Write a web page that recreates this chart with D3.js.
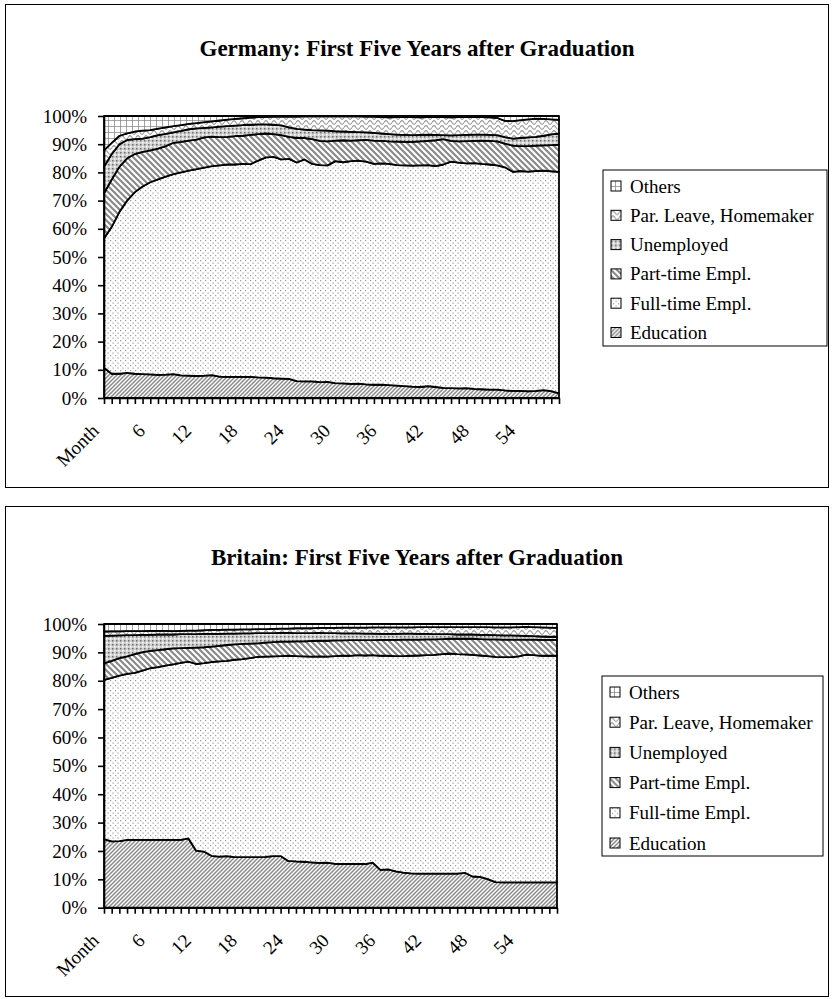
<!DOCTYPE html>
<html>
<head>
<meta charset="utf-8">
<script src="https://cdn.jsdelivr.net/npm/d3@7"></script>
<style>
  body { margin: 0; background: #fff; }
  svg text { font-family: "Liberation Serif", "Times New Roman", serif; }
</style>
</head>
<body>
<div id="chart"></div>
<script>
const seriesNames = ["Education", "Full-time Empl.", "Part-time Empl.", "Unemployed", "Par. Leave, Homemaker", "Others"];
const nMonths = 60;
const tickLabelIdx = [0, 6, 12, 18, 24, 30, 36, 42, 48, 54];
const tickLabels = ["Month", "6", "12", "18", "24", "30", "36", "42", "48", "54"];
const yTicks = [0, 0.1, 0.2, 0.3, 0.4, 0.5, 0.6, 0.7, 0.8, 0.9, 1];

// Germany, share in % per month
const deEducation = [10.7,8.6,8.6,8.9,8.6,8.5,8.4,8.2,8.3,8.5,8.0,7.9,7.8,7.9,8.1,7.6,7.5,7.5,7.5,7.5,7.3,7.2,7.0,6.9,6.8,6.0,5.9,5.9,5.6,5.7,5.3,5.2,5.0,5.1,4.8,4.7,4.7,4.6,4.4,4.2,4.0,3.9,4.2,3.9,3.6,3.5,3.4,3.5,3.2,3.1,3.0,3.0,2.7,2.5,2.5,2.4,2.5,2.8,2.4,1.6];
const deFullTime = [45.9,52.1,57.4,61.1,64.4,66.5,68.1,69.3,70.2,70.9,72.0,72.7,73.4,73.8,74.1,74.9,75.3,75.3,75.5,75.4,76.9,78.1,78.5,77.7,78.0,77.5,78.7,77.1,77.0,76.8,78.7,78.4,79.0,79.1,79.0,78.3,78.5,78.4,78.2,78.3,78.4,78.6,78.4,78.3,79.2,80.3,80.1,79.7,80.1,79.9,79.8,79.5,79.1,77.7,78.0,77.9,78.0,77.8,78.0,78.6];
const dePartTime = [16.0,16.8,16.0,15.0,13.5,12.3,11.3,10.9,10.8,11.1,10.8,10.7,10.4,10.7,10.5,10.0,9.8,10.1,10.0,10.4,9.4,8.5,8.1,8.6,7.8,8.7,7.6,8.8,8.6,8.5,7.3,7.8,7.3,7.2,7.7,8.3,8.0,8.0,8.3,8.3,8.4,8.5,8.6,9.2,9.0,7.4,7.5,7.9,7.9,8.3,8.4,8.5,8.4,9.3,8.8,9.0,9.0,9.0,9.3,9.6];
const deUnemployed = [9.4,9.0,8.0,6.5,5.3,4.7,4.7,4.8,4.4,3.7,3.9,4.0,4.0,3.4,3.3,3.7,3.8,3.7,3.8,3.6,3.4,3.2,3.3,3.5,3.4,3.2,3.0,3.2,3.7,3.8,3.3,3.1,3.1,2.9,2.7,2.7,2.6,2.6,2.5,2.5,2.4,2.3,2.2,1.9,1.4,1.9,2.2,2.2,2.2,2.1,2.1,2.2,2.3,2.5,2.9,3.1,3.1,3.4,3.8,4.0];
const deParLeave = [5.8,4.0,3.0,2.3,2.7,2.8,2.5,2.3,2.3,2.2,2.1,1.9,1.9,2.0,2.1,2.2,2.3,2.4,2.4,2.5,2.6,2.7,2.9,3.1,3.8,4.4,4.7,4.9,5.0,5.1,5.3,5.4,5.5,5.6,5.6,5.8,5.8,5.9,6.2,6.4,6.4,6.2,6.2,6.4,6.4,6.4,6.4,6.3,6.3,6.2,6.2,6.1,5.8,6.2,6.3,6.4,6.5,6.0,5.3,4.8];
const deOthers = [12.2,9.5,7.0,6.2,5.5,5.2,5.0,4.5,4.0,3.6,3.2,2.8,2.5,2.2,1.9,1.6,1.3,1.0,0.8,0.6,0.4,0.3,0.2,0.2,0.2,0.2,0.1,0.1,0.1,0.1,0.1,0.1,0.1,0.1,0.2,0.2,0.4,0.5,0.4,0.3,0.4,0.5,0.4,0.3,0.4,0.5,0.4,0.4,0.3,0.4,0.5,0.7,1.7,1.8,1.5,1.2,0.9,1.0,1.2,1.4];

// Britain, share in % per month
const gbEducation = [24.2,23.4,23.5,23.9,23.9,23.9,23.9,23.9,23.9,23.9,23.9,24.4,20.1,19.8,18.3,18.0,18.2,17.8,17.8,17.8,17.8,17.9,18.2,18.2,16.5,16.3,16.2,16.0,15.8,15.9,15.5,15.4,15.4,15.4,15.4,15.9,13.3,13.5,12.8,12.4,12.1,12.0,12.0,12.0,12.0,12.0,12.0,12.3,11.0,10.9,10.1,9.0,8.9,8.9,8.9,8.9,8.9,8.9,8.9,8.9];
const gbFullTime = [56.1,57.6,58.3,58.5,58.9,59.7,60.5,60.9,61.4,61.9,62.4,62.3,65.8,66.4,68.3,68.8,68.8,69.6,69.8,70.2,70.6,70.6,70.4,70.5,72.3,72.4,72.4,72.5,72.8,72.6,73.2,73.4,73.4,73.6,73.5,73.1,75.5,75.3,75.9,76.3,76.7,76.9,77.0,77.1,77.4,77.6,77.4,77.0,78.1,78.0,78.6,79.4,79.4,79.4,79.7,80.3,80.1,79.9,79.9,79.9];
const gbPartTime = [5.8,6.0,6.2,6.2,6.6,6.5,6.1,6.0,5.8,5.6,5.2,4.9,5.8,5.6,5.4,5.5,5.6,5.4,5.4,5.1,4.8,4.9,5.0,5.1,5.0,5.2,5.3,5.5,5.5,5.6,5.5,5.4,5.5,5.3,5.4,5.3,5.6,5.6,5.7,5.8,5.7,5.6,5.6,5.5,5.3,5.2,5.4,5.5,5.7,5.8,5.9,6.2,6.2,6.2,5.9,5.3,5.5,5.6,5.6,5.6];
const gbUnemployed = [9.7,8.9,8.0,7.5,6.7,6.1,5.7,5.5,5.2,4.9,4.9,4.8,4.7,4.7,4.5,4.2,4.0,3.8,3.7,3.6,3.6,3.4,3.2,3.1,3.1,2.9,2.9,2.8,2.8,2.7,2.6,2.5,2.4,2.4,2.3,2.3,2.1,2.1,2.1,2.1,2.1,2.0,1.9,1.8,1.7,1.6,1.5,1.5,1.5,1.5,1.6,1.5,1.5,1.5,1.4,1.3,1.2,1.2,1.1,1.1];
const gbParLeave = [1.5,1.5,1.4,1.4,1.4,1.3,1.4,1.3,1.3,1.2,1.2,1.3,1.3,1.3,1.4,1.4,1.4,1.4,1.4,1.4,1.4,1.4,1.5,1.5,1.5,1.7,1.7,1.7,1.7,1.8,1.8,2.0,2.0,2.0,2.1,2.2,2.3,2.3,2.3,2.2,2.2,2.4,2.4,2.5,2.5,2.5,2.6,2.6,2.6,2.7,2.7,2.7,2.8,2.8,3.0,3.2,3.2,3.2,3.2,3.1];
const gbOthers = [2.7,2.6,2.6,2.5,2.5,2.5,2.4,2.4,2.4,2.5,2.4,2.3,2.3,2.2,2.1,2.1,2.0,2.0,1.9,1.9,1.8,1.8,1.7,1.6,1.6,1.5,1.5,1.5,1.4,1.4,1.4,1.3,1.3,1.3,1.3,1.2,1.2,1.2,1.2,1.2,1.2,1.1,1.1,1.1,1.1,1.1,1.1,1.1,1.1,1.1,1.1,1.2,1.2,1.2,1.1,1.0,1.1,1.2,1.3,1.4];

const W = 832, H = 999;
const fontFamily = '"Liberation Serif", "Times New Roman", serif';

const svg = d3.select("#chart").append("svg")
    .attr("width", W)
    .attr("height", H);

// fill patterns
const defs = svg.append("defs");
const patternIds = ["pEdu", "pFull", "pPart", "pUnemp", "pLeave", "pOther"];

function addPattern(id, w, h, bg, draw) {
    const p = defs.append("pattern")
        .attr("id", id)
        .attr("patternUnits", "userSpaceOnUse")
        .attr("width", w)
        .attr("height", h);
    p.append("rect").attr("width", w).attr("height", h).attr("fill", bg);
    draw(p);
}

addPattern("pEdu", 4, 4, "#fff", p => p.append("path")
    .attr("d", "M-1,1 L1,-1 M0,4 L4,0 M3,5 L5,3")
    .attr("stroke", "#8a8a8a").attr("stroke-width", 1.5));

addPattern("pFull", 5, 5, "#fff", p => {
    p.append("rect").attr("x", 0).attr("y", 0).attr("width", 1.2).attr("height", 1.2).attr("fill", "#9a9a9a");
    p.append("rect").attr("x", 2.5).attr("y", 2.5).attr("width", 1.2).attr("height", 1.2).attr("fill", "#9a9a9a");
});

addPattern("pPart", 6, 6, "#fff", p => p.append("path")
    .attr("d", "M-1.5,4.5 L1.5,7.5 M0,0 L6,6 M4.5,-1.5 L7.5,1.5")
    .attr("stroke", "#8a8a8a").attr("stroke-width", 2.2));

addPattern("pUnemp", 4, 4, "#cfcfcf", p => {
    p.append("rect").attr("x", 0).attr("y", 0).attr("width", 1.5).attr("height", 1.5).attr("fill", "#707070");
    p.append("rect").attr("x", 2).attr("y", 2).attr("width", 1.5).attr("height", 1.5).attr("fill", "#ffffff");
});

addPattern("pLeave", 8, 5, "#fff", p => p.append("path")
    .attr("d", "M0,2.5 C1.5,0 2.5,0 4,2.5 S6.5,5 8,2.5")
    .attr("fill", "none")
    .attr("stroke", "#9a9a9a").attr("stroke-width", 1.1));

addPattern("pOther", 6, 6, "#fff", p => p.append("path")
    .attr("d", "M0,0 L6,0 M0,0 L0,6")
    .attr("stroke", "#8a8a8a").attr("stroke-width", 1.6));

const charts = [
    {
        title: "Germany: First Five Years after Graduation",
        series: [deEducation, deFullTime, dePartTime, deUnemployed, deParLeave, deOthers],
        box: { x: 5.5, y: 4.5, w: 823, h: 483 },
        plot: { left: 104, right: 559, top: 116, bottom: 398 },
        legend: { x: 603, y: 170, w: 224, h: 176, step: 29.3 },
        titleY: 56
    },
    {
        title: "Britain: First Five Years after Graduation",
        series: [gbEducation, gbFullTime, gbPartTime, gbUnemployed, gbParLeave, gbOthers],
        box: { x: 5.5, y: 506.5, w: 823, h: 490 },
        plot: { left: 104, right: 557, top: 624, bottom: 907.7 },
        legend: { x: 602, y: 676, w: 221, h: 180, step: 30.2 },
        titleY: 565
    }
];

charts.forEach(drawChart);

function drawChart(c) {
    const g = svg.append("g");

    g.append("rect")
        .attr("x", c.box.x).attr("y", c.box.y)
        .attr("width", c.box.w).attr("height", c.box.h)
        .attr("fill", "#fff")
        .attr("stroke", "#000")
        .attr("stroke-width", 1);

    g.append("text")
        .attr("x", c.box.x + c.box.w / 2)
        .attr("y", c.titleY)
        .attr("text-anchor", "middle")
        .attr("font-size", 23)
        .attr("font-weight", "bold")
        .text(c.title);

    const rows = d3.range(nMonths).map(i => {
        const r = {};
        seriesNames.forEach((k, s) => r[k] = c.series[s][i]);
        return r;
    });

    const stacked = d3.stack()
        .keys(seriesNames)
        .offset(d3.stackOffsetExpand)(rows);

    const x = d3.scaleLinear()
        .domain([0, nMonths - 1])
        .range([c.plot.left, c.plot.right]);

    const y = d3.scaleLinear()
        .domain([0, 1])
        .range([c.plot.bottom, c.plot.top]);

    const area = d3.area()
        .x((d, i) => x(i))
        .y0(d => y(d[0]))
        .y1(d => y(d[1]));

    // areas
    g.selectAll("path.band")
        .data(stacked)
        .enter()
        .append("path")
        .attr("class", "band")
        .attr("d", area)
        .attr("fill", (d, i) => `url(#${patternIds[i]})`)
        .attr("stroke", "#000")
        .attr("stroke-width", 1.8)
        .attr("stroke-linejoin", "round");

    // axes
    const yAxis = g.append("g")
        .attr("transform", `translate(${c.plot.left},0)`)
        .call(d3.axisLeft(y)
            .tickValues(yTicks)
            .tickFormat(d3.format(".0%"))
            .tickSizeInner(6)
            .tickSizeOuter(0)
            .tickPadding(11));

    const xAxis = g.append("g")
        .attr("transform", `translate(0,${c.plot.bottom})`)
        .call(d3.axisBottom(x)
            .tickValues(d3.range(nMonths))
            .tickFormat("")
            .tickSizeInner(6)
            .tickSizeOuter(0));

    [yAxis, xAxis].forEach(a => {
        a.selectAll("path, line").attr("stroke", "#000").attr("stroke-width", 1.6);
        a.selectAll("text")
            .attr("font-size", 19)
            .attr("font-family", fontFamily)
            .attr("fill", "#000");
    });

    // month labels
    g.selectAll("text.month")
        .data(tickLabelIdx)
        .enter()
        .append("text")
        .attr("class", "month")
        .attr("transform", (d) => `translate(${x(d) - 4},${c.plot.bottom + 34}) rotate(-45)`)
        .attr("text-anchor", "end")
        .attr("font-size", 19)
        .text((d, i) => tickLabels[i]);

    // legend
    const lg = g.append("g").attr("transform", `translate(${c.legend.x},${c.legend.y})`);
    lg.append("rect")
        .attr("width", c.legend.w).attr("height", c.legend.h)
        .attr("fill", "#fff").attr("stroke", "#000").attr("stroke-width", 1);

    const order = d3.range(seriesNames.length).reverse();
    const items = lg.selectAll("g.item")
        .data(order)
        .enter()
        .append("g")
        .attr("class", "item")
        .attr("transform", (d, i) => `translate(0,${16 + i * c.legend.step})`);

    items.append("rect")
        .attr("x", 8).attr("y", -5)
        .attr("width", 10).attr("height", 10)
        .attr("fill", d => `url(#${patternIds[d]})`)
        .attr("stroke", "#000").attr("stroke-width", 1);

    items.append("text")
        .attr("x", 27)
        .attr("y", 6.5)
        .attr("font-size", 19)
        .text(d => seriesNames[d]);
}
</script>
</body>
</html>
